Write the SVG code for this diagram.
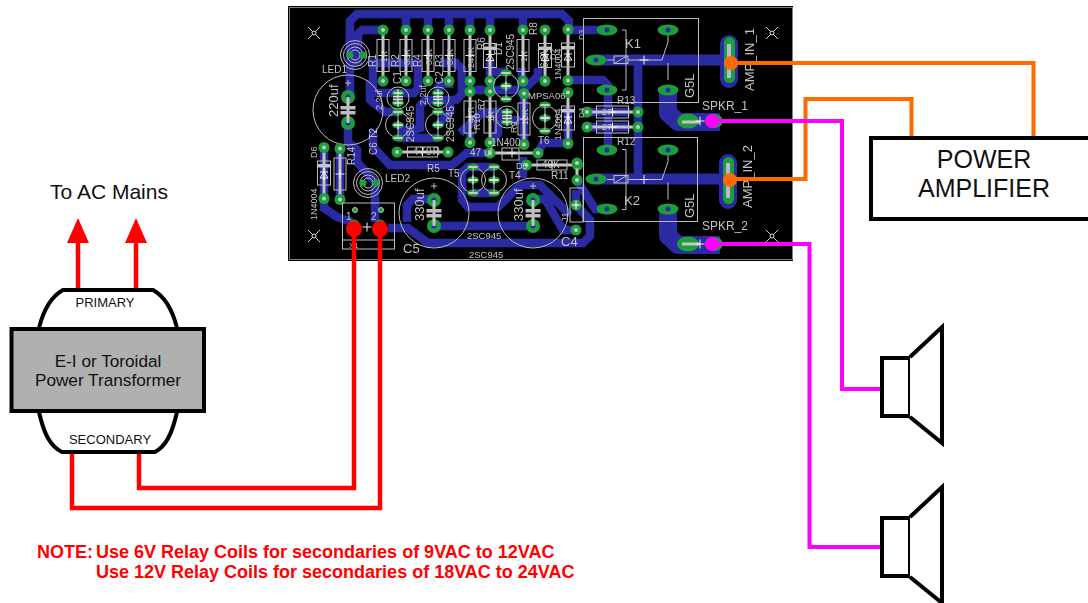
<svg xmlns="http://www.w3.org/2000/svg" width="1088" height="603" viewBox="0 0 1088 603">
<style>
text{font-family:"Liberation Sans",Arial,sans-serif}
.tr{fill:none;stroke:#2a2aa2;stroke-width:8.5;stroke-linejoin:miter}
.tw{fill:none;stroke:#2a2aa2;stroke-width:11}
.tb{fill:none;stroke:#2a2aa2;stroke-width:18;stroke-linejoin:round}
.si{fill:none;stroke:#bdbdbd;stroke-width:1}
.le{fill:none;stroke:#c4c4c4;stroke-width:3}
.cr{fill:none;stroke:#f2f2f2;stroke-width:1}
.st{fill:#c4c4c4;font-size:10px}
.sl{fill:#c4c4c4;font-size:13px}
.pad{fill:#1f9e3e}
.hole{fill:#2a2aa2}
.red{fill:none;stroke:#ff0000;stroke-width:4.5}
.or{fill:none;stroke:#ff6a00;stroke-width:4}
.mg{fill:none;stroke:#ff00ff;stroke-width:4}
.bk{fill:#fff;stroke:#000;stroke-width:4}
.lab{fill:#111;text-anchor:middle}
</style>
<defs>
<filter id="soft" x="0" y="0" width="1" height="1"><feGaussianBlur stdDeviation="0.45"/></filter>
<g id="p"><circle r="5.5" class="pad"/><circle r="2" fill="#c8c8c8"/></g>
<g id="ph"><ellipse rx="10.5" ry="5.5" class="pad"/><circle r="2.5" class="hole"/></g>
<g id="pv"><ellipse rx="6" ry="3.5" class="pad"/><rect x="-4.5" y="-1" width="9" height="2" fill="#c8c8c8"/></g>
<g id="pb"><circle r="7" class="pad"/><circle r="2.5" class="hole"/></g>
<g id="cross"><path class="cr" d="M-4.5 0H4.5M0-4.5V4.5"/></g>
<g id="res"><path class="le" d="M0-25V25"/><rect x="-6" y="-16" width="12" height="32" fill="#000" class="si"/><use href="#p" y="-25.5"/><use href="#p" y="25.5"/><use href="#cross"/></g>
<g id="dio"><path class="le" d="M0-25V25"/><rect x="-6.5" y="-12" width="13" height="24" fill="#000" class="si"/><rect x="-6.5" y="-9" width="13" height="3.5" fill="#c4c4c4"/><path class="cr" d="M-4 5L0-1L4 5ZM-4-1H4M0-5V8"/><use href="#p" y="-25.5"/><use href="#p" y="25.5"/></g>
<g id="resh"><path class="le" d="M-25 0H25"/><rect x="-15" y="-5" width="30" height="10" fill="none" class="si"/><use href="#p" x="-25.5"/><use href="#p" x="25.5"/><use href="#cross"/></g>
<g id="tran"><circle r="12.5" class="si"/><use href="#pv" y="-13"/><use href="#pv"/><use href="#pv" y="13"/><path class="si" d="M0-12V12"/><use href="#cross"/></g>
<g id="cap"><circle r="35" class="si"/><use href="#pb" y="-13"/><use href="#pb" y="13"/><path class="le" d="M0-13V13"/><rect x="-7.5" y="-4" width="15" height="3.5" fill="#bdbdbd"/><rect x="-7.5" y="1" width="15" height="3.5" fill="#bdbdbd"/><path class="si" d="M-3-27H3M0-30V-24"/></g>
<g id="capS"><circle r="11" class="si"/><use href="#pv" y="-5"/><use href="#pv" y="5"/><rect x="-5" y="-2" width="10" height="1.5" fill="#ddd"/><rect x="-5" y="0.5" width="10" height="1.5" fill="#ddd"/><path class="cr" d="M0-9V9"/></g>
<g id="led"><circle r="14.5" class="si"/><circle r="11.5" class="si"/><circle r="8" class="si"/><circle r="5" class="si"/><circle cx="-5" r="3.5" class="pad"/><circle cx="8" r="3.5" class="pad"/></g>
<g id="mark"><path stroke="#cfcfcf" fill="none" d="M-6-6L6 6M6-6L-6 6"/><circle r="2" fill="#000" stroke="#e8e8e8"/></g>
<g id="relay">
<path class="si" d="M622 30H626V90H622M614 60H607M632 60H662L668 42M668 35V42M668 63V80M628 60H632"/>
<rect x="614" y="56" width="14" height="7.5" class="si"/><path class="si" d="M615 63L627 56"/>
<use href="#cross" x="644" y="60"/>
</g>
</defs>

<g id="pcb" filter="url(#soft)">
<rect x="288" y="6" width="505" height="255" fill="#000"/>
<rect x="289.5" y="7.5" width="503" height="252" fill="none" stroke="#808080"/>
<g id="traces">
<path class="tr" d="M350 97V21L357 14H562L569 21V30M406 14V30M428 14V30M449 14V30M470 14V30M490 14V30M523 14V30"/>
<path class="tr" d="M383 30H362L358 34V66"/>
<path class="tr" d="M373 70V63H418V88L414 93H373V70"/>
<path class="tr" d="M440 63H456L462 69V94L456 100H425L420 106V128L414 130H398"/>
<path class="tr" d="M370 80V100L385 112H398"/>
<path class="tr" d="M438 100V88L446 81M449 81V88"/>
<path class="tr" d="M470 90H523L538 76V68"/>
<path class="tr" d="M490 60V72H507M518 72H522V95"/>
<path class="tr" d="M460 133L483 112H498V133L490 143"/>
<path class="tr" d="M470 142V132M524 96V143"/>
<path class="tr" d="M510 120H524"/>
<path class="tr" d="M348 123V142L357 150V162L375 182V222"/>
<path class="tr" d="M373 130V147L390 165H452L467 153H490"/>
<path class="tr" d="M398 138H438M438 125L450 112V103"/>
<path class="tr" d="M324 148V208L337 217L352 222"/>
<path class="tr" d="M340 150V198"/>
<path class="tr" d="M388 228H408L428 243H583L590 236V220L576 205V190"/>
<path class="tr" d="M407 222V205L413 199H434"/>
<path class="tr" d="M434 226H533"/>
<path class="tr" d="M473 167H468L462 172V200L468 207H498L520 185H540L555 200L570 215"/>
<path class="tr" d="M533 199L545 199L563 230H576"/>
<path class="tr" d="M473 167H493M473 193H493"/>
<path class="tr" d="M523 157V178M538 153L543 143H568V107"/>
<path class="tr" d="M568 30H607"/>
<path class="tr" d="M570 80H603L608 85V150"/>
<path class="tr" d="M638 60V178"/>
<path class="tr" d="M588 112H630M588 127H630"/>
<path class="tw" d="M596 60H730M596 179H730"/>
<path class="tr" d="M577 180L595 209H607"/>
<path class="tb" d="M668 90V113L678 122H720M668 209V236L678 245H720"/>
<rect x="720" y="35" width="18" height="53" rx="9" fill="#2a2aa2"/>
<rect x="719" y="154" width="18" height="55" rx="9" fill="#2a2aa2"/>
</g>
<g id="parts">
<use href="#led" x="355" y="55"/>
<use href="#led" x="368" y="183"/>
<use href="#res" x="383" y="55.5"/><use href="#res" x="406" y="55.5"/><use href="#res" x="428" y="55.5"/><use href="#res" x="449" y="55.5"/><use href="#res" x="470" y="55.5"/><use href="#dio" x="490" y="55.5"/><use href="#res" x="523" y="55.5"/><use href="#dio" x="545" y="55.5"/>
<use href="#dio" x="568" y="55"/>
<use href="#dio" x="568" y="118"/>
<use href="#res" x="470" y="117"/><use href="#res" x="490" y="117"/><use href="#res" x="524" y="119"/>
<use href="#capS" x="398" y="98"/><use href="#capS" x="438" y="98"/><use href="#capS" x="507" y="117"/>
<use href="#tran" x="398" y="125"/><use href="#tran" x="438" y="125"/><use href="#tran" x="506" y="86"/><use href="#tran" x="545" y="118"/><use href="#tran" x="473" y="180"/><use href="#tran" x="494" y="180"/>
<use href="#cap" x="348" y="110"/><use href="#cap" x="434" y="213"/><use href="#cap" x="533" y="213"/>
<use href="#resh" x="422.5" y="152"/>
<use href="#res" x="340" y="174"/>
<use href="#dio" x="324" y="173"/>
<rect x="502" y="148" width="17" height="12" class="si"/><path class="le" d="M490 153H538"/><use href="#p" x="490" y="153"/><use href="#p" x="538" y="153"/><use href="#cross" x="512" y="153"/>
<use href="#resh" x="552" y="165"/>
<use href="#res" x="612.5" y="112" transform="rotate(90 612.5 112)"/>
<use href="#res" x="612.5" y="127" transform="rotate(90 612.5 127)"/>
<path class="le" d="M577 163V180"/><use href="#p" x="577" y="163"/><use href="#p" x="577" y="180"/><use href="#p" x="576" y="230"/>
<rect x="570" y="188" width="13" height="34" class="si"/><use href="#p" x="576" y="205"/><use href="#cross" x="576" y="205"/>
<rect x="342.5" y="203" width="52" height="46" class="si"/><path class="si" d="M342.5 240H394.5"/>
<circle cx="355" cy="210" r="2.5" fill="#1f9e3e" stroke="#c4c4c4"/><circle cx="381" cy="210" r="2.5" fill="#1f9e3e" stroke="#c4c4c4"/>
<use href="#p" x="354" y="225"/><use href="#p" x="380" y="225"/><use href="#cross" x="367" y="227"/>
<use href="#mark" x="314" y="33"/><use href="#mark" x="314" y="236"/><use href="#mark" x="772" y="33"/><use href="#mark" x="772" y="236"/>
<rect x="583.5" y="18.5" width="115" height="84" class="si"/>
<rect x="583.5" y="137.5" width="114" height="84" class="si"/>
<use href="#relay"/><use href="#relay" y="119.5"/>
<use href="#ph" x="607" y="30"/><use href="#ph" x="668" y="30"/><use href="#ph" x="596" y="60"/><use href="#ph" x="607" y="90"/><use href="#ph" x="668" y="90"/>
<use href="#ph" x="607" y="150"/><use href="#ph" x="668" y="150"/><use href="#ph" x="596" y="179"/><use href="#ph" x="607" y="209"/><use href="#ph" x="668" y="209"/>
<rect x="724" y="37" width="11" height="46" rx="5.5" class="pad"/><rect x="723" y="157" width="11" height="47" rx="5.5" class="pad"/>
<path d="M729 44V78M728 163V198" stroke="#b9b9d0" stroke-width="4" fill="none"/>
<ellipse cx="688" cy="121" rx="11" ry="7.5" class="pad"/><ellipse cx="688" cy="244" rx="11" ry="7.5" class="pad"/>
<ellipse cx="714" cy="121" rx="9" ry="7" class="pad"/><ellipse cx="714" cy="244" rx="9" ry="7" class="pad"/>
<path d="M682 122H700M682 244H700" stroke="#c4c4c4" stroke-width="3"/>
<use href="#cross" x="700" y="121"/><use href="#cross" x="700" y="244"/>
</g>
<g id="silk-text">
<text class="st" x="322" y="73">LED1</text>
<text class="st" x="385" y="182">LED2</text>
<text class="sl" x="633" y="48" text-anchor="middle">K1</text>
<text class="sl" x="632" y="205" text-anchor="middle">K2</text>
<text class="sl" transform="translate(694 98) rotate(-90)">G5L</text>
<text class="sl" transform="translate(694 218) rotate(-90)">G5L</text>
<text class="sl" transform="translate(754 91) rotate(-90)">AMP_IN_1</text>
<text class="sl" transform="translate(752 208) rotate(-90)">AMP_IN_2</text>
<text class="st" style="font-size:12px" x="702" y="110">SPKR_1</text>
<text class="st" style="font-size:12px" x="702" y="230">SPKR_2</text>
<text class="st" x="617" y="104">R13</text>
<text class="st" x="617" y="145">R12</text>
<text class="st" x="602" y="115" style="font-size:9px">27</text><text class="st" x="602" y="130" style="font-size:9px">27</text>
<text class="st" x="470" y="156">47 uf</text>
<text class="st" x="467" y="239" style="font-size:9.5px">2SC945</text>
<text class="st" x="469" y="258" style="font-size:9.5px">2SC945</text>
<text class="st" x="427" y="172">R5</text>
<text class="st" x="413" y="155" style="letter-spacing:1px">470R</text>
<text class="st" x="542" y="168">40K</text>
<text class="st" x="551" y="179">R11</text>
<text class="st" x="448" y="177">T5</text>
<text class="st" x="509" y="179">T4</text>
<text class="st" x="538" y="144">T6</text>
<text class="st" x="528" y="99" style="font-size:9.5px">MPSA06</text>
<text class="st" x="516" y="169" style="font-size:9px">D5</text>
<text class="st" x="491" y="146" style="font-size:10px">1N400</text>
<text x="403" y="253" class="sl">C5</text>
<text x="561" y="246" class="sl">C4</text>
<text class="st" x="346" y="220">1</text><text class="st" x="371" y="220">2</text>
<text class="st" x="349" y="248" style="font-size:8px">X1</text>
<g class="st" style="font-size:10px">
<text transform="translate(376 67) rotate(-90)">R1</text>
<text transform="translate(399 67) rotate(-90)">R2</text>
<text transform="translate(421 67) rotate(-90)">R4</text>
<text transform="translate(443 67) rotate(-90)">R3</text>
<text transform="translate(485 50) rotate(-90)">R6</text>
<text transform="translate(537 35) rotate(-90)">R8</text>
<text transform="translate(502 55) rotate(-90)">D1</text>
<text transform="translate(514 70) rotate(-90)">2SC945</text>
<text transform="translate(548 68) rotate(-90)">6.2V</text>
<text transform="translate(401 84) rotate(-90)">C1</text>
<text transform="translate(443 84) rotate(-90)">C2</text>
<text transform="translate(387 62) rotate(-90)" style="font-size:9px">1K</text>
<text transform="translate(410 65) rotate(-90)" style="font-size:9px">33K</text>
<text transform="translate(432 65) rotate(-90)" style="font-size:9px">33K</text>
<text transform="translate(453 65) rotate(-90)" style="font-size:9px">33K</text>
<text transform="translate(474 68) rotate(-90)" style="font-size:9px">249K</text>
<text transform="translate(527 62) rotate(-90)" style="font-size:9px">1K</text>
<text transform="translate(474 123) rotate(-90)" style="font-size:9px">47R</text>
<text transform="translate(494 122) rotate(-90)" style="font-size:9px">1K</text>
<text transform="translate(528 125) rotate(-90)" style="font-size:9px">15K</text>
<text transform="translate(480 130) rotate(-90)" style="font-size:9px">R10</text>
<text transform="translate(484 110) rotate(-90)" style="font-size:9px">R7</text>
<text transform="translate(517 133) rotate(-90)" style="font-size:9px">R9</text>
<text transform="translate(556 60) rotate(-90)" style="font-size:9px">D2</text>
<text transform="translate(561 80) rotate(-90)" style="font-size:9px">1N4004</text>
<text transform="translate(561 140) rotate(-90)" style="font-size:9px">1N4004</text>
<text transform="translate(584 40) rotate(-90)" style="font-size:8px">D3</text>
<text transform="translate(584 118) rotate(-90)" style="font-size:8px">D4</text>
<text transform="translate(382 110) rotate(-90)" style="font-size:9px">2.2uf</text>
<text transform="translate(426 105) rotate(-90)" style="font-size:9px">2.2uf</text>
<text transform="translate(414 142) rotate(-90)">2SC945</text>
<text transform="translate(454 142) rotate(-90)">2SC945</text>
<text transform="translate(377 155) rotate(-90)">C6 T2</text>
<text transform="translate(355 165) rotate(-90)">R14</text>
<text transform="translate(317 158) rotate(-90)" style="font-size:9px">D6</text>
<text transform="translate(317 220) rotate(-90)" style="font-size:9px">1N4004</text>
<text transform="translate(568 222) rotate(-90)" style="font-size:9px">J1</text>
</g>
<text class="sl" transform="translate(338 117) rotate(-90)">220uf</text>
<text class="sl" transform="translate(424 221) rotate(-90)">330uf</text>
<text class="sl" transform="translate(523 221) rotate(-90)">330uf</text>
</g>
</g>

<g id="connectors">
<path class="red" d="M72 452V508H380V229"/>
<path class="red" d="M139 452V488H354V229"/>
<path class="red" d="M78 290V240M136 290V240"/>
<path fill="#ff0000" d="M78 218L89 243H67ZM136 218L147 243H125Z"/>
<path class="or" d="M731 63H1033.5V136"/>
<path class="or" d="M730 179H805.5V99H911.5V136"/>
<path class="mg" d="M712 121H842V389H880"/>
<path class="mg" d="M712 244H809.5V547H880"/>
<circle cx="354" cy="229" r="8" fill="#ff0000"/><circle cx="380" cy="229" r="8" fill="#ff0000"/>
<circle cx="731" cy="63" r="7" fill="#ff6a00"/><circle cx="730" cy="180" r="7" fill="#ff6a00"/>
<circle cx="712" cy="121" r="7" fill="#ff00ff"/><circle cx="712" cy="244" r="7" fill="#ff00ff"/>
</g>

<g id="mains-label"><text x="109" y="199" font-size="21" text-anchor="middle" fill="#111">To AC Mains</text></g>

<g id="transformer">
<path class="bk" d="M39 328C44 308 52 296 63 290H153C164 296 172 308 177 328"/>
<path class="bk" d="M39 412C44 434 50 446 62 452H155C166 446 172 434 177 412"/>
<rect x="11.5" y="329" width="192.5" height="82" fill="#b0b0b0" stroke="#000" stroke-width="4"/>
<text class="lab" x="105" y="307" font-size="13">PRIMARY</text>
<text class="lab" x="108" y="367" font-size="17.2">E-I or Toroidal</text>
<text class="lab" x="108" y="386" font-size="17.2">Power Transformer</text>
<text class="lab" x="110" y="444" font-size="13">SECONDARY</text>
</g>

<g id="amplifier">
<rect x="871" y="138" width="240" height="81" class="bk"/>
<text class="lab" x="984" y="168" font-size="25">POWER</text>
<text class="lab" x="984" y="197" font-size="25">AMPLIFIER</text>
</g>

<g id="speaker-1">
<rect x="882" y="358" width="28" height="58" class="bk"/>
<path class="bk" d="M910 357L942 327V443L910 417"/>
</g>
<g id="speaker-2">
<rect x="882" y="518" width="28" height="58" class="bk"/>
<path class="bk" d="M910 517L942 487V603L910 577"/>
</g>

<g id="note" fill="#ff0000" font-weight="bold" font-size="18">
<text x="37" y="558">NOTE:</text>
<text x="96" y="558">Use 6V Relay Coils for secondaries of 9VAC to 12VAC</text>
<text x="96" y="578">Use 12V Relay Coils for secondaries of 18VAC to 24VAC</text>
</g>
</svg>
